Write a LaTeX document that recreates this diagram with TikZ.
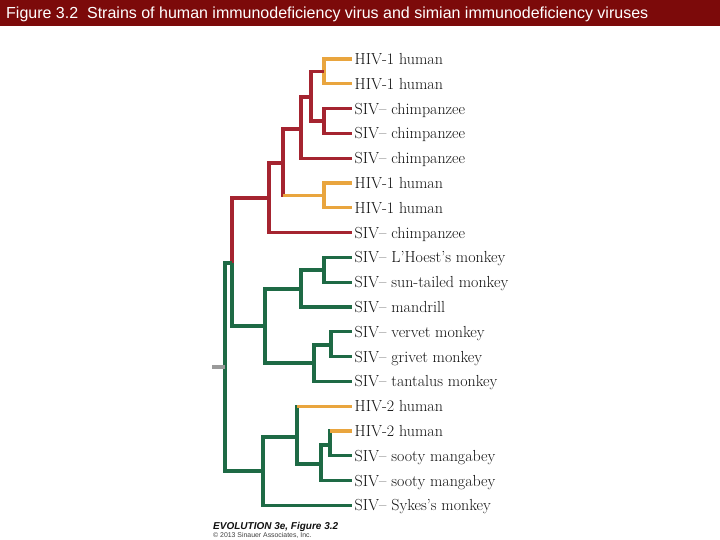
\documentclass[tikz,border=0pt]{standalone}
\usepackage{fontspec}
\newfontfamily\arialfont{Liberation Sans}
\definecolor{titlered}{HTML}{7C0A0A}
\definecolor{cred}{HTML}{A52430}
\definecolor{corange}{HTML}{E9A53E}
\definecolor{cgreen}{HTML}{1E6A45}
\definecolor{cgrey}{HTML}{9A9A9A}
\definecolor{ctext}{HTML}{111111}
\newcommand\edge[3]{\draw[branch,#3] (#1) |- (#2);}
\newcommand\edgetwo[4]{\draw[branch,#3,line cap=rect] (#1) -- (#1 |- #2); \draw[branch,#4] (#1 |- #2) -- (#2);}
\begin{document}
\begin{tikzpicture}[x=1pt,y=-1pt,
  branch/.style={line width=3.2pt},
  leaflabel/.style={anchor=base west,inner sep=0pt,text=ctext,font=\fontsize{16}{16}\selectfont}]
\useasboundingbox (0,0) rectangle (720,540);
\fill[white] (0,0) rectangle (720,540);
\fill[titlered] (0,0) rectangle (720,26);
\node[anchor=base west,inner sep=0pt,text=white,font=\arialfont\fontsize{16}{16}\selectfont] (title) at (6,19) {Figure 3.2\ \ Strains of human immunodeficiency virus and simian immunodeficiency viruses};
% leaf tips
\foreach \i/\y in {1/59,2/83.8,3/108.6,4/133.4,5/158.2,6/183,7/207.8,8/232.6,9/257.4,10/282.2,11/307,12/331.8,13/356.6,14/381.4,15/406.2,16/431,17/455.8,18/480.6,19/505.4}{
  \coordinate (t\i) at (352,\y);
}
% labels
\node[leaflabel] (l1) at (354.5,64.5) {HIV-1 human};
\node[leaflabel] (l2) at (354.5,89.3) {HIV-1 human};
\node[leaflabel] (l3) at (354.5,114.1) {SIV– chimpanzee};
\node[leaflabel] (l4) at (354.5,138.9) {SIV– chimpanzee};
\node[leaflabel] (l5) at (354.5,163.7) {SIV– chimpanzee};
\node[leaflabel] (l6) at (354.5,188.5) {HIV-1 human};
\node[leaflabel] (l7) at (354.5,213.3) {HIV-1 human};
\node[leaflabel] (l8) at (354.5,238.1) {SIV– chimpanzee};
\node[leaflabel] (l9) at (354.5,262.9) {SIV– L’Hoest’s monkey};
\node[leaflabel] (l10) at (354.5,287.7) {SIV– sun-tailed monkey};
\node[leaflabel] (l11) at (354.5,312.5) {SIV– mandrill};
\node[leaflabel] (l12) at (354.5,337.3) {SIV– vervet monkey};
\node[leaflabel] (l13) at (354.5,362.1) {SIV– grivet monkey};
\node[leaflabel] (l14) at (354.5,386.9) {SIV– tantalus monkey};
\node[leaflabel] (l15) at (354.5,411.7) {HIV-2 human};
\node[leaflabel] (l16) at (354.5,436.5) {HIV-2 human};
\node[leaflabel] (l17) at (354.5,461.3) {SIV– sooty mangabey};
\node[leaflabel] (l18) at (354.5,486.1) {SIV– sooty mangabey};
\node[leaflabel] (l19) at (354.5,510.9) {SIV– Sykes’s monkey};
% internal nodes
\coordinate (a) at (324,71.4);
\coordinate (b) at (324,121);
\coordinate (c) at (311,97);
\coordinate (d) at (301,129);
\coordinate (e) at (324,195.4);
\coordinate (f) at (283,163);
\coordinate (g) at (269,198);
\coordinate (h) at (324,270);
\coordinate (i) at (301,289);
\coordinate (j) at (331,345);
\coordinate (k) at (314,363);
\coordinate (l) at (265,326);
\coordinate (m) at (232,263);
\coordinate (n) at (330,445);
\coordinate (o) at (321,464);
\coordinate (p) at (297,437);
\coordinate (q) at (263,471);
\coordinate (root) at (225,367);
\coordinate (tick) at (212,367);
% edges
\edge{a}{t1}{corange}
\edge{a}{t2}{corange}
\edge{b}{t3}{cred}
\edge{b}{t4}{cred}
\edge{c}{a}{cred}
\edge{c}{b}{cred}
\edge{d}{c}{cred}
\edge{d}{t5}{cred}
\edge{e}{t6}{corange}
\edge{e}{t7}{corange}
\edge{f}{d}{cred}
\edgetwo{f}{e}{cred}{corange}
\edge{g}{f}{cred}
\edge{g}{t8}{cred}
\edge{h}{t9}{cgreen}
\edge{h}{t10}{cgreen}
\edge{i}{h}{cgreen}
\edge{i}{t11}{cgreen}
\edge{j}{t12}{cgreen}
\edge{j}{t13}{cgreen}
\edge{k}{j}{cgreen}
\edge{k}{t14}{cgreen}
\edge{l}{i}{cgreen}
\edge{l}{k}{cgreen}
\edge{m}{g}{cred}
\edge{m}{l}{cgreen}
\edgetwo{n}{t16}{cgreen}{corange}
\edge{n}{t17}{cgreen}
\edge{o}{n}{cgreen}
\edge{o}{t18}{cgreen}
\edgetwo{p}{t15}{cgreen}{corange}
\edge{p}{o}{cgreen}
\edge{q}{p}{cgreen}
\edge{q}{t19}{cgreen}
\edge{root}{m}{cgreen}
\edge{root}{q}{cgreen}
\draw[branch,cgrey] (tick) -- (root);
% caption
\node[anchor=base west,inner sep=0pt,text=ctext,font=\arialfont\bfseries\itshape\fontsize{10}{10}\selectfont] (cap1) at (213,529) {EVOLUTION 3e, Figure 3.2};
\node[anchor=base west,inner sep=0pt,text=ctext!80,font=\arialfont\fontsize{6.9}{6.9}\selectfont] (cap2) at (213,537) {© 2013 Sinauer Associates, Inc.};
\end{tikzpicture}
\end{document}
